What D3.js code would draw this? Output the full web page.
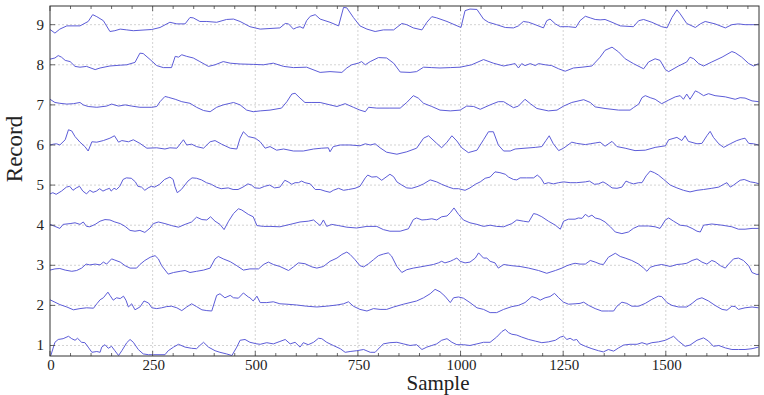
<!DOCTYPE html>
<html>
<head>
<meta charset="utf-8">
<script src="https://cdn.jsdelivr.net/npm/d3@7"></script>
<style>
  body { margin: 0; background: #fff; }
  svg text { font-family: "Liberation Serif", "DejaVu Serif", serif; fill: #222; }
</style>
</head>
<body>
<svg id="chart"></svg>
<script>
"use strict";

// traces: [sample, value]
const record1 = [[0,0.75],[2,0.75],[12,1.08],[20,1.15],[32,1.17],[45,1.23],[53,1.17],[61,1.13],[67,1.18],[77,1.08],[85,1.07],[93,0.96],[102,0.83],[114,0.85],[122,0.83],[126,0.96],[134,1.02],[142,0.93],[150,0.98],[158,0.87],[167,0.75],[175,0.87],[187,1.07],[195,1.15],[203,1.08],[215,0.9],[227,0.79],[240,0.77],[252,0.77],[268,0.77],[280,0.77],[288,0.87],[301,0.96],[313,1.03],[329,0.96],[345,0.93],[357,0.92],[365,1.0],[374,1.08],[386,0.96],[402,0.87],[414,0.83],[430,0.79],[443,0.75],[455,0.96],[463,1.13],[475,1.15],[487,1.08],[504,1.04],[512,1.03],[528,1.07],[544,1.04],[560,1.1],[573,1.15],[585,1.04],[597,1.08],[609,0.96],[617,1.07],[629,1.02],[642,1.08],[654,1.18],[662,1.17],[674,1.08],[690,1.0],[707,0.92],[719,0.83],[731,0.85],[747,0.87],[764,0.9],[780,0.83],[792,0.83],[804,0.96],[812,1.04],[828,1.07],[845,1.08],[861,1.04],[877,1.0],[893,1.02],[906,0.9],[918,0.96],[930,1.0],[942,1.04],[954,1.13],[967,1.17],[979,1.08],[991,1.02],[1007,1.02],[1023,1.0],[1040,1.04],[1056,1.08],[1072,1.08],[1088,1.21],[1101,1.35],[1109,1.4],[1117,1.32],[1125,1.28],[1137,1.26],[1149,1.21],[1166,1.15],[1182,1.11],[1198,1.07],[1214,1.09],[1231,1.13],[1243,1.21],[1251,1.23],[1259,1.15],[1267,1.18],[1275,1.13],[1283,1.15],[1291,1.04],[1304,0.98],[1320,0.92],[1336,0.87],[1348,0.84],[1360,0.9],[1373,0.86],[1385,0.94],[1397,1.01],[1413,1.03],[1430,1.03],[1442,1.07],[1454,1.03],[1466,1.07],[1482,1.09],[1499,1.13],[1511,1.19],[1519,1.23],[1531,1.11],[1547,0.98],[1559,1.01],[1576,1.13],[1592,1.19],[1604,1.11],[1616,0.98],[1629,1.0],[1645,0.94],[1661,0.9],[1677,0.9],[1693,0.9],[1710,0.92],[1726,0.96]];

const record2 = [[0,2.14],[12,2.08],[24,2.02],[41,1.96],[57,1.89],[73,1.92],[89,1.94],[106,1.93],[114,2.04],[122,2.14],[130,2.19],[141,2.33],[146,2.25],[154,2.13],[162,2.19],[171,2.17],[179,2.23],[185,2.13],[191,1.96],[199,2.04],[207,1.89],[219,1.96],[229,2.11],[240,2.06],[248,1.94],[260,1.92],[272,1.94],[284,1.97],[296,1.98],[309,1.94],[321,1.87],[333,1.96],[345,2.04],[357,1.97],[370,1.89],[382,1.87],[394,1.86],[406,2.25],[414,2.29],[426,2.19],[439,2.25],[447,2.19],[459,2.18],[471,2.31],[483,2.21],[487,2.19],[495,2.11],[504,2.23],[512,2.07],[528,2.07],[544,2.09],[560,2.04],[577,2.03],[601,2.01],[625,1.98],[650,1.96],[674,1.98],[699,2.01],[715,2.04],[727,2.09],[739,1.98],[755,1.9],[772,1.86],[788,1.92],[804,1.9],[820,1.9],[837,1.96],[861,2.03],[877,2.07],[893,2.11],[910,2.19],[926,2.29],[938,2.4],[950,2.34],[962,2.23],[975,2.07],[983,2.19],[995,2.21],[1007,2.18],[1023,2.07],[1040,1.94],[1056,1.9],[1072,1.82],[1088,1.82],[1105,1.9],[1125,1.97],[1141,2.0],[1157,2.07],[1174,2.22],[1186,2.18],[1194,2.13],[1206,2.19],[1218,2.22],[1229,2.3],[1239,2.19],[1251,2.08],[1263,2.03],[1279,2.04],[1291,2.05],[1300,2.08],[1312,2.0],[1328,1.92],[1344,1.86],[1360,1.86],[1373,1.86],[1381,1.98],[1393,2.08],[1405,2.05],[1417,1.98],[1434,1.98],[1450,2.05],[1466,2.15],[1482,2.23],[1490,2.22],[1503,2.07],[1515,2.0],[1531,1.96],[1551,1.96],[1564,2.05],[1576,2.15],[1588,2.19],[1604,2.11],[1620,2.0],[1637,1.9],[1649,1.88],[1661,1.98],[1669,1.97],[1677,1.9],[1693,1.94],[1710,1.96],[1726,1.94]];

const record3 = [[0,2.88],[12,2.91],[24,2.92],[37,2.88],[53,2.85],[65,2.87],[77,2.93],[88,3.03],[97,3.01],[110,3.03],[122,3.01],[130,3.08],[138,3.03],[150,3.16],[158,3.13],[171,3.08],[183,2.99],[195,2.93],[211,2.93],[219,3.02],[231,3.12],[244,3.2],[256,3.24],[264,3.16],[272,2.99],[288,2.78],[301,2.82],[317,2.85],[329,2.87],[341,2.82],[357,2.85],[374,2.88],[390,2.93],[402,3.16],[410,3.22],[422,3.16],[439,3.09],[455,2.99],[471,2.88],[487,2.91],[508,2.91],[520,3.02],[532,3.08],[544,3.02],[560,2.97],[581,2.87],[593,2.96],[605,3.06],[621,3.04],[638,2.96],[650,2.93],[666,2.97],[682,3.1],[699,3.18],[711,3.27],[723,3.33],[731,3.27],[743,3.14],[755,2.99],[764,2.96],[776,3.04],[788,3.14],[800,3.24],[812,3.28],[824,3.31],[832,3.23],[845,2.97],[857,2.82],[869,2.89],[885,2.93],[902,2.96],[918,2.99],[934,3.02],[946,3.06],[954,3.1],[962,3.06],[975,3.1],[983,3.14],[991,3.18],[999,3.1],[1011,3.06],[1023,3.08],[1036,3.18],[1044,3.31],[1056,3.18],[1064,3.18],[1072,3.1],[1084,3.06],[1092,2.93],[1105,3.02],[1125,2.99],[1145,2.97],[1166,2.93],[1190,2.87],[1210,2.8],[1231,2.87],[1247,2.93],[1259,2.99],[1271,3.03],[1279,3.05],[1291,3.03],[1304,3.03],[1316,3.12],[1328,3.08],[1340,3.03],[1348,3.02],[1360,3.2],[1377,3.3],[1389,3.22],[1401,3.18],[1417,3.12],[1434,3.03],[1446,2.93],[1454,2.85],[1462,2.95],[1474,2.99],[1490,3.02],[1503,2.99],[1511,2.97],[1527,3.02],[1539,3.03],[1551,3.05],[1564,3.12],[1576,3.16],[1588,3.08],[1600,3.03],[1612,3.12],[1620,3.09],[1633,2.99],[1645,2.93],[1653,3.03],[1665,3.16],[1677,3.18],[1689,3.12],[1702,2.99],[1710,2.82],[1722,2.77],[1727,2.78]];

const record4 = [[0,4.02],[12,3.97],[24,3.92],[32,4.02],[49,4.04],[61,4.06],[73,4.02],[81,4.08],[89,3.97],[97,3.96],[110,4.02],[122,4.1],[134,4.14],[146,4.13],[158,4.08],[171,4.04],[183,3.97],[195,3.87],[207,3.85],[219,3.87],[231,3.82],[244,3.93],[252,4.04],[264,4.08],[280,4.04],[296,3.99],[313,3.95],[329,4.02],[345,4.08],[357,4.2],[370,4.14],[382,4.13],[391,4.21],[402,4.1],[414,4.02],[424,3.89],[435,4.1],[447,4.29],[459,4.41],[467,4.38],[483,4.27],[495,4.21],[504,3.99],[520,3.97],[536,3.97],[560,3.96],[585,4.02],[609,4.08],[629,4.1],[642,4.13],[650,4.06],[658,3.99],[666,4.13],[674,3.97],[686,4.02],[703,3.99],[723,3.95],[747,3.93],[772,3.97],[796,3.97],[812,3.89],[828,3.85],[853,3.85],[873,3.91],[885,4.14],[893,4.18],[906,4.13],[918,4.14],[930,4.16],[942,4.13],[954,4.21],[967,4.23],[975,4.31],[984,4.43],[995,4.27],[1007,4.13],[1023,4.06],[1040,4.02],[1056,3.97],[1072,4.0],[1088,3.97],[1105,3.96],[1125,4.04],[1137,4.13],[1153,4.1],[1166,4.08],[1178,4.29],[1186,4.27],[1198,4.21],[1214,4.1],[1231,4.0],[1243,3.9],[1251,4.1],[1263,4.15],[1279,4.15],[1287,4.18],[1296,4.17],[1304,4.27],[1312,4.21],[1320,4.25],[1328,4.18],[1340,4.15],[1352,4.08],[1365,3.96],[1377,3.83],[1393,3.79],[1409,3.83],[1421,3.92],[1434,3.98],[1458,3.98],[1474,3.96],[1486,3.92],[1499,4.13],[1507,4.18],[1519,4.1],[1535,4.0],[1551,3.98],[1564,3.92],[1576,3.85],[1584,3.83],[1592,4.0],[1612,4.03],[1637,4.0],[1661,3.96],[1677,3.9],[1693,3.9],[1710,3.92],[1726,3.92]];

const record5 = [[0,4.78],[7,4.81],[15,4.77],[28,4.85],[40,4.95],[48,4.97],[56,4.87],[64,4.93],[72,4.97],[80,4.85],[89,4.78],[97,4.87],[105,4.82],[113,4.85],[121,4.91],[129,4.85],[137,4.89],[145,4.92],[149,4.85],[156,4.92],[162,4.89],[170,4.97],[178,5.14],[186,5.18],[198,5.17],[208,5.08],[214,4.97],[223,4.95],[231,4.87],[239,4.93],[247,4.97],[255,4.95],[267,5.02],[279,5.14],[292,5.2],[300,5.14],[304,4.97],[310,4.81],[320,4.89],[336,5.1],[346,5.18],[357,5.17],[369,5.13],[381,5.06],[393,5.02],[405,4.95],[417,4.91],[434,4.93],[446,4.89],[458,4.89],[470,4.95],[482,5.03],[491,5.0],[499,4.93],[511,4.92],[523,4.97],[535,5.0],[547,4.93],[560,4.95],[572,5.12],[580,5.08],[589,5.02],[597,5.06],[605,5.06],[613,5.1],[621,5.06],[634,5.03],[646,4.89],[658,4.89],[670,4.85],[682,4.82],[690,4.87],[703,4.92],[715,4.87],[727,4.89],[743,4.92],[755,4.97],[768,5.18],[774,5.25],[784,5.2],[796,5.21],[808,5.12],[816,5.18],[828,5.27],[837,5.21],[845,5.08],[857,5.0],[869,4.93],[881,4.92],[897,4.97],[910,5.03],[926,5.13],[942,5.08],[954,5.02],[971,4.95],[983,4.91],[995,4.91],[1011,4.87],[1023,4.93],[1036,5.02],[1048,5.08],[1060,5.17],[1072,5.2],[1084,5.33],[1096,5.31],[1109,5.27],[1117,5.2],[1129,5.14],[1137,5.13],[1145,5.18],[1161,5.18],[1178,5.18],[1187,5.25],[1196,5.17],[1204,5.03],[1214,5.06],[1226,5.03],[1239,5.06],[1251,5.08],[1267,5.06],[1283,5.06],[1304,5.08],[1314,5.1],[1326,5.02],[1336,5.03],[1347,5.08],[1356,5.03],[1369,4.93],[1381,4.92],[1393,4.95],[1403,5.1],[1412,5.06],[1421,5.03],[1434,5.06],[1442,5.06],[1452,5.23],[1462,5.35],[1472,5.31],[1482,5.25],[1495,5.14],[1511,5.0],[1527,4.93],[1543,4.87],[1559,4.83],[1576,4.87],[1592,4.89],[1612,4.92],[1629,4.95],[1641,5.02],[1649,5.06],[1657,4.95],[1665,5.0],[1681,5.12],[1691,5.14],[1706,5.08],[1718,5.06],[1727,5.03]];

const record6 = [[0,6.0],[8,6.02],[16,6.03],[24,6.0],[37,6.13],[45,6.38],[53,6.35],[61,6.21],[73,6.07],[85,5.96],[93,5.85],[102,6.08],[114,6.07],[130,6.11],[146,6.17],[157,6.23],[167,6.07],[175,6.11],[191,6.08],[203,6.13],[219,6.04],[236,5.92],[260,5.93],[280,5.9],[292,5.93],[309,5.92],[325,6.13],[333,6.0],[345,6.02],[357,5.96],[374,5.92],[390,6.08],[402,6.11],[418,6.02],[439,5.92],[455,5.9],[463,6.17],[471,6.33],[483,6.21],[500,6.17],[512,6.08],[524,5.92],[536,5.96],[552,5.87],[569,5.9],[593,5.85],[617,5.85],[642,5.9],[662,5.92],[678,5.93],[682,5.83],[690,5.96],[707,6.0],[731,6.0],[755,5.98],[768,6.03],[780,6.0],[792,6.03],[804,5.93],[820,5.82],[845,5.77],[869,5.83],[893,5.92],[910,6.17],[922,6.23],[942,6.04],[954,5.93],[967,6.07],[979,6.23],[991,6.1],[1003,5.93],[1019,5.81],[1040,5.87],[1056,6.13],[1068,6.33],[1080,6.33],[1092,6.0],[1105,5.85],[1121,5.85],[1133,5.9],[1157,5.92],[1182,5.94],[1198,5.96],[1208,6.11],[1216,6.23],[1226,6.03],[1239,5.86],[1251,5.92],[1271,6.07],[1283,6.04],[1304,6.01],[1316,6.03],[1328,6.05],[1340,6.07],[1352,5.97],[1369,6.09],[1381,5.96],[1401,5.92],[1425,5.86],[1450,5.87],[1474,5.94],[1499,5.98],[1507,6.13],[1527,6.19],[1539,6.11],[1547,6.23],[1555,6.09],[1576,6.03],[1588,6.04],[1600,6.23],[1608,6.34],[1616,6.19],[1629,6.03],[1641,5.94],[1657,6.03],[1673,6.11],[1685,6.15],[1693,6.17],[1702,6.04],[1714,6.03],[1726,6.0]];

const record7 = [[0,7.14],[12,7.06],[24,7.04],[41,7.02],[57,7.03],[73,7.06],[81,7.0],[93,6.96],[114,6.94],[138,6.97],[150,7.02],[167,6.97],[183,7.0],[199,6.97],[219,6.94],[248,6.94],[260,6.96],[268,7.08],[280,7.21],[288,7.19],[305,7.14],[321,7.08],[341,7.04],[357,6.94],[374,6.86],[390,6.83],[406,6.94],[422,7.0],[439,7.04],[447,7.06],[463,7.0],[479,6.87],[495,6.83],[512,6.85],[536,6.87],[564,6.92],[577,7.08],[589,7.27],[597,7.29],[609,7.17],[621,7.06],[638,7.06],[658,7.06],[682,7.0],[699,6.96],[719,7.03],[739,6.94],[755,6.87],[768,6.83],[776,6.94],[796,6.92],[828,6.92],[853,6.92],[869,7.06],[885,7.23],[897,7.17],[910,7.04],[930,6.96],[950,6.87],[975,6.85],[999,6.87],[1015,6.97],[1032,6.96],[1048,6.89],[1072,7.0],[1092,7.08],[1105,7.08],[1129,6.93],[1141,6.97],[1157,7.14],[1170,7.03],[1186,6.91],[1214,6.85],[1235,6.87],[1251,6.97],[1271,7.06],[1300,7.13],[1316,7.06],[1328,6.95],[1352,6.91],[1385,6.87],[1413,6.87],[1421,6.93],[1434,7.02],[1442,7.18],[1450,7.23],[1462,7.18],[1474,7.14],[1490,7.03],[1507,7.12],[1523,7.2],[1535,7.23],[1543,7.14],[1551,7.27],[1559,7.14],[1572,7.35],[1580,7.31],[1592,7.23],[1604,7.28],[1620,7.23],[1645,7.2],[1669,7.14],[1681,7.18],[1693,7.17],[1710,7.1],[1726,7.08]];

const record8 = [[0,8.14],[12,8.17],[20,8.23],[28,8.19],[37,8.11],[49,8.08],[61,7.96],[73,7.94],[89,7.96],[110,7.88],[122,7.92],[146,7.97],[171,7.99],[187,8.0],[207,8.06],[219,8.29],[227,8.28],[244,8.13],[260,7.98],[276,7.93],[296,7.93],[305,8.21],[313,8.19],[321,8.25],[333,8.21],[349,8.17],[365,8.08],[386,7.96],[402,8.0],[422,8.08],[439,8.04],[463,8.02],[495,8.01],[520,8.0],[544,8.04],[569,7.96],[593,7.93],[625,7.94],[658,7.81],[682,7.83],[711,7.81],[723,7.92],[735,8.0],[751,8.04],[759,8.08],[768,8.0],[780,8.08],[800,8.18],[820,8.17],[837,8.04],[853,7.82],[877,7.81],[893,7.83],[910,7.94],[930,7.93],[950,7.92],[975,7.93],[999,7.94],[1027,8.0],[1056,8.13],[1080,8.04],[1105,7.97],[1133,8.03],[1141,7.92],[1149,8.03],[1157,7.98],[1170,8.03],[1182,7.98],[1190,8.03],[1206,8.0],[1222,7.98],[1239,7.9],[1255,7.84],[1275,7.92],[1296,7.94],[1320,7.97],[1340,8.19],[1352,8.36],[1369,8.44],[1385,8.32],[1401,8.15],[1421,8.03],[1446,7.9],[1458,8.07],[1474,8.15],[1486,8.11],[1499,7.88],[1507,7.83],[1531,7.97],[1551,8.07],[1559,8.19],[1568,8.15],[1580,8.03],[1592,7.97],[1612,8.07],[1637,8.19],[1661,8.33],[1669,8.3],[1685,8.19],[1702,8.03],[1714,7.97],[1726,8.03]];

const record9 = [[0,8.88],[12,8.79],[24,8.89],[41,8.97],[73,8.97],[93,9.08],[104,9.25],[114,9.2],[130,9.1],[146,8.83],[158,8.85],[171,8.89],[187,8.87],[203,8.85],[248,8.88],[268,8.93],[292,9.06],[309,9.02],[329,9.02],[341,9.18],[349,9.17],[365,9.08],[382,9.08],[406,9.06],[430,9.13],[447,9.14],[463,9.08],[487,8.95],[512,8.89],[560,8.92],[573,9.03],[581,9.02],[593,8.89],[601,8.93],[609,8.95],[617,8.91],[625,9.1],[634,9.21],[646,9.25],[658,9.14],[682,9.06],[703,8.97],[715,9.43],[723,9.42],[739,9.18],[755,8.97],[772,8.89],[792,8.83],[812,8.87],[837,8.87],[857,9.03],[869,9.0],[885,8.92],[906,8.87],[918,9.06],[930,9.2],[942,9.17],[967,9.08],[1001,8.93],[1011,9.35],[1023,9.39],[1040,9.38],[1056,9.14],[1068,9.06],[1088,9.0],[1109,8.93],[1129,8.92],[1141,8.97],[1153,9.08],[1166,9.06],[1182,9.0],[1202,8.92],[1210,9.1],[1218,9.14],[1231,9.02],[1243,8.95],[1263,8.95],[1281,8.93],[1291,9.1],[1304,9.21],[1316,9.17],[1328,9.13],[1340,9.12],[1352,9.13],[1369,9.06],[1389,8.97],[1421,8.95],[1434,9.1],[1446,9.13],[1466,9.06],[1490,8.95],[1503,8.92],[1515,9.18],[1527,9.37],[1535,9.27],[1551,9.03],[1572,8.93],[1584,9.02],[1596,9.08],[1620,9.02],[1645,8.92],[1661,9.0],[1677,9.02],[1693,9.0],[1726,9.0]];

const records = [record1, record2, record3, record4, record5, record6, record7, record8, record9];

const xTicks = [0, 250, 500, 750, 1000, 1250, 1500];
const yTicks = [1, 2, 3, 4, 5, 6, 7, 8, 9];
const xDomain = [0, 1727];
const yDomain = [0.738, 9.466];

const width = 764, height = 395;
const margin = { top: 6, right: 5, bottom: 39, left: 50 };

const svg = d3.select('#chart')
  .attr('width', width)
  .attr('height', height);

const x = d3.scaleLinear().domain(xDomain).range([margin.left, width - margin.right]);
const y = d3.scaleLinear().domain(yDomain).range([height - margin.bottom, margin.top]);

// grid
const grid = svg.append('g')
  .attr('stroke', '#c8c8c8')
  .attr('stroke-width', 0.8)
  .attr('stroke-dasharray', '2,2');
grid.selectAll('line.gx').data(xTicks.slice(1))
  .enter().append('line')
    .attr('x1', d => x(d)).attr('x2', d => x(d))
    .attr('y1', y.range()[1]).attr('y2', y.range()[0]);
grid.selectAll('line.gy').data(yTicks)
  .enter().append('line')
    .attr('x1', x.range()[0]).attr('x2', x.range()[1])
    .attr('y1', d => y(d)).attr('y2', d => y(d));

// clip to the frame
svg.append('clipPath').attr('id', 'plotClip')
  .append('rect')
    .attr('x', x.range()[0]).attr('y', y.range()[1])
    .attr('width', x.range()[1] - x.range()[0])
    .attr('height', y.range()[0] - y.range()[1]);

const line = d3.line()
  .x(d => x(d[0]))
  .y(d => y(d[1]));

svg.append('g')
  .attr('clip-path', 'url(#plotClip)')
  .selectAll('path')
  .data(records)
  .enter().append('path')
    .attr('d', line)
    .attr('fill', 'none')
    .attr('stroke', '#5c5cd8')
    .attr('stroke-width', 1)
    .attr('stroke-linejoin', 'round');

// frame ticks, pointing inward
const minorX = d3.range(0, 1727, 50).filter(v => v % 250 !== 0);
const frameTicks = svg.append('g').attr('stroke', '#444').attr('stroke-width', 0.8);
[[y.range()[0], -1], [y.range()[1], 1]].forEach(([yy, dir]) => {
  frameTicks.selectAll(null).data(xTicks).enter().append('line')
    .attr('x1', d => x(d)).attr('x2', d => x(d))
    .attr('y1', yy).attr('y2', yy + dir * 5);
  frameTicks.selectAll(null).data(minorX).enter().append('line')
    .attr('x1', d => x(d)).attr('x2', d => x(d))
    .attr('y1', yy).attr('y2', yy + dir * 3);
});
[[x.range()[0], 1], [x.range()[1], -1]].forEach(([xx, dir]) => {
  frameTicks.selectAll(null).data(yTicks).enter().append('line')
    .attr('x1', xx).attr('x2', xx + dir * 5)
    .attr('y1', d => y(d)).attr('y2', d => y(d));
});

// frame
svg.append('rect')
  .attr('x', x.range()[0]).attr('y', y.range()[1])
  .attr('width', x.range()[1] - x.range()[0])
  .attr('height', y.range()[0] - y.range()[1])
  .attr('fill', 'none')
  .attr('stroke', '#333')
  .attr('stroke-width', 1);

// tick labels
svg.append('g').selectAll('text').data(xTicks)
  .enter().append('text')
    .attr('x', d => x(d) + 1)
    .attr('y', y.range()[0] + 14)
    .attr('text-anchor', 'middle')
    .attr('font-size', 15)
    .text(d => d);

svg.append('g').selectAll('text').data(yTicks)
  .enter().append('text')
    .attr('x', x.range()[0] - 6)
    .attr('y', d => y(d) + 5)
    .attr('text-anchor', 'end')
    .attr('font-size', 15)
    .text(d => d);

// axis titles
svg.append('text')
  .attr('x', 438)
  .attr('y', 390)
  .attr('text-anchor', 'middle')
  .attr('font-size', 21)
  .text('Sample');

svg.append('text')
  .attr('transform', 'translate(22,149) rotate(-90)')
  .attr('text-anchor', 'middle')
  .attr('font-size', 23)
  .text('Record');
</script>
</body>
</html>
